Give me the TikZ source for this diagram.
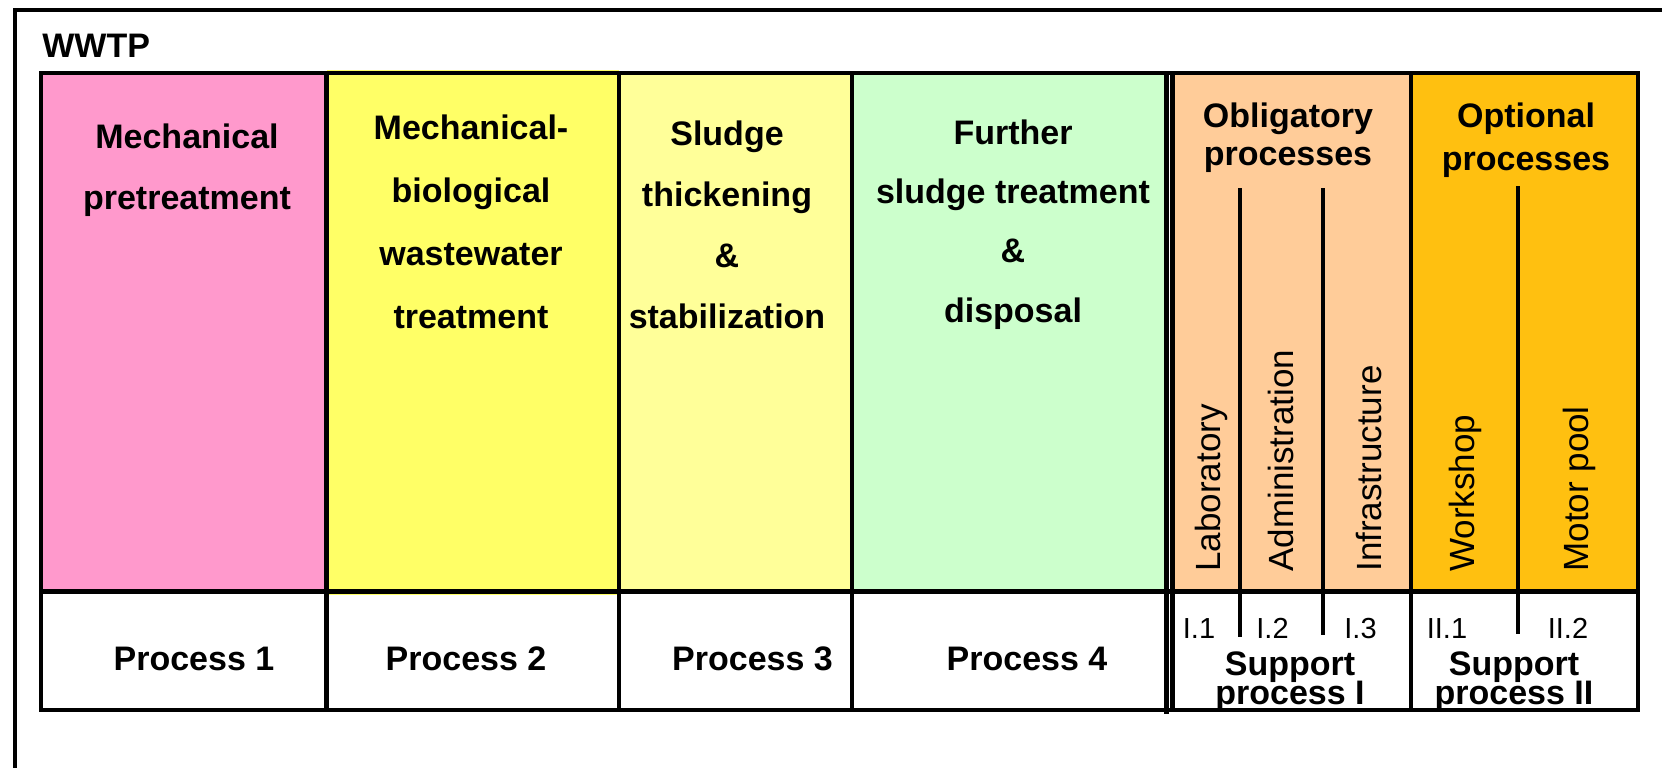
\documentclass[tikz,border=0pt]{standalone}
\usepackage{fontspec}
\setmainfont{Liberation Sans}
\definecolor{ffttcc}{rgb}{1.,0.6,0.8}
\definecolor{ffffrr}{rgb}{1.,1.,0.4}
\definecolor{ffffss}{rgb}{1.,1.,0.6}
\definecolor{ccffcc}{rgb}{0.8,1.,0.8}
\definecolor{ffccss}{rgb}{1.,0.8,0.6}
\definecolor{ffccqq}{rgb}{1.,0.7529411764705882,0.0627}
\newcommand{\tightskip}{\lineskiplimit-20pt\relax}

\begin{document}
\begin{tikzpicture}[line cap=butt,line join=miter,x=0.5pt,y=-0.5pt,
  rulew/.style={line width=2.1pt},
  head/.style={font=\bfseries\fontsize{17}{30.5}\selectfont,align=center,anchor=north,inner sep=0pt},
  proc/.style={font=\bfseries\fontsize{17}{20}\selectfont,anchor=base,inner sep=0pt},
  side/.style={font=\fontsize{17.5}{20}\selectfont,rotate=90,anchor=west,inner sep=0pt},
  subno/.style={font=\fontsize{14.5}{17}\selectfont,anchor=base,inner sep=0pt}]
\useasboundingbox (0,0) rectangle (1662,767);
\fill [color=white] (0,0) rectangle (1662,767);
\clip (0,0) rectangle (1662,767);
% column colours
\fill [color=ffttcc] (41,73) rectangle (326.5,591.5);
\fill [color=ffffrr] (326.5,70) rectangle (619,595);
\fill [color=ffffss] (619,73) rectangle (852,591.5);
\fill [color=ccffcc] (852,73) rectangle (1166,591.5);
\fill [color=ffccss] (1172.5,73) rectangle (1411,591.5);
\fill [color=ffccqq] (1411,73) rectangle (1638,591.5);
% frames and rules
\draw [line width=2.3pt] (15,800) -- (15,10) -- (1700,10);
\draw [rulew] (41,73) rectangle (1638,710);
\draw [rulew] (41,591.5) -- (1638,591.5);
\foreach \x in {326.5,619,852,1411}
\draw [rulew] (\x,73) -- (\x,710);
\draw [line width=2.5pt] (1166,73) -- (1166,714);
\draw [rulew] (1172.5,73) -- (1172.5,710);
\foreach \x/\y/\z in {1240/188/637,1323/188/635,1518/186/634}
\draw [rulew] (\x,\y) -- (\x,\z);
% texts
\node [anchor=base west,inner sep=0pt,font=\bfseries\fontsize{17}{20}\selectfont] (wwtp) at (42,57) {WWTP};
\node [head] (mechpre) at (187,123.5) {Mechanical\\pretreatment};
\node [head,font=\bfseries\fontsize{17}{31.5}\selectfont] (mechbio) at (471,114.5) {Mechanical-\\biological\\wastewater\\treatment};
\node [head] (sludge) at (727,120) {Sludge\\thickening\\\&\\stabilization};
\node [head,font=\bfseries\fontsize{17}{29.7}\selectfont] (further) at (1013,119) {Further\\sludge treatment\\\&\\disposal};
\node [head,font=\bfseries\fontsize{17}{19}\selectfont] (oblig) at (1288,102.5) {Obligatory\\processes};
\node [head,font=\bfseries\fontsize{17}{21.5}\selectfont] (option) at (1526,102.5) {Optional\\processes};
\node [side] (lab) at (1211.5,572) {Laboratory};
\node [side] (admin) at (1280.5,572) {Administration};
\node [side] (infra) at (1368.5,572) {Infrastructure};
\node [side] (workshop) at (1465.5,572) {Workshop};
\node [side] (motor) at (1579.5,572) {Motor pool};
\node [proc] (proc1) at (194,670) {Process 1};
\node [proc] (proc2) at (466,670) {Process 2};
\node [proc] (proc3) at (752.5,670) {Process 3};
\node [proc] (proc4) at (1027,670) {Process 4};
\node [subno] (sub11) at (1199,638) {I.1};
\node [subno] (sub12) at (1272.5,638) {I.2};
\node [subno] (sub13) at (1360.5,638) {I.3};
\node [subno] (sub21) at (1447,638) {II.1};
\node [subno] (sub22) at (1568,638) {II.2};
\node [head,font=\bfseries\fontsize{17}{14.5}\selectfont\tightskip] (supp1) at (1290,651.5) {Support\\process I};
\node [head,font=\bfseries\fontsize{17}{14.5}\selectfont\tightskip] (supp2) at (1514,651.5) {Support\\process II};
\end{tikzpicture}
\end{document}
